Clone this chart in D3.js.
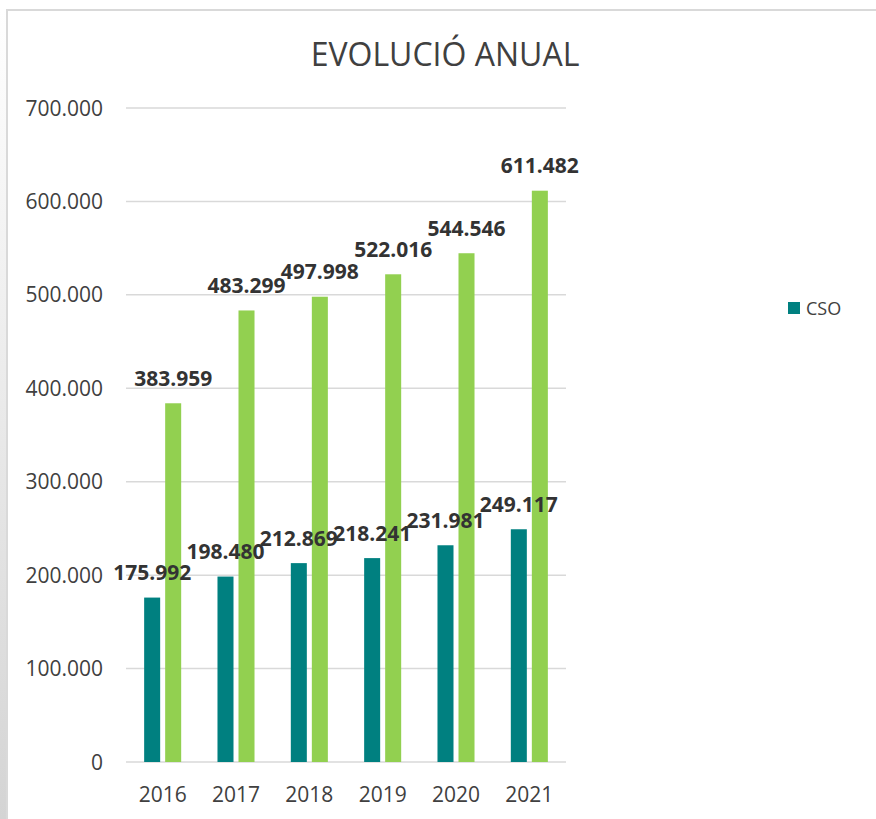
<!DOCTYPE html>
<html>
<head>
<meta charset="utf-8">
<script src="https://cdn.jsdelivr.net/npm/d3@7"></script>
<style>
	body { margin: 0; background: #fff; }
	svg { display: block; font-family: "Open Sans", sans-serif; }
</style>
</head>
<body>
<div id="chart"></div>
<script>

// chart data
var years = ["2016", "2017", "2018", "2019", "2020", "2021"];
var csoValues = [175992, 198480, 212869, 218241, 231981, 249117];
var otherValues = [383959, 483299, 497998, 522016, 544546, 611482];
var yTicks = [0, 100000, 200000, 300000, 400000, 500000, 600000, 700000];
var seriesNames = ["CSO", "Other"];
var seriesColors = ["#008080", "#92d050"];

var width = 876;
var height = 819;

var locale = d3.formatLocale({ decimal: ",", thousands: ".", grouping: [3], currency: ["", "€"] });
var fmt = locale.format(",d");

var svg = d3.select("div#chart")
	.append("svg")
	.attr("width", width)
	.attr("height", height);

// shaded left edge + frame
var grad = svg.append("defs").append("linearGradient")
	.attr("id", "edge")
	.attr("x1", 0).attr("y1", 0).attr("x2", 0).attr("y2", 1);
grad.append("stop").attr("offset", "0%").attr("stop-color", "#ffffff");
grad.append("stop").attr("offset", "100%").attr("stop-color", "#d4d4d4");

svg.append("rect")
	.attr("x", 0).attr("y", 10)
	.attr("width", 6).attr("height", height - 10)
	.attr("fill", "url(#edge)");

svg.append("path")
	.attr("d", "M7," + height + "V10H" + width)
	.attr("fill", "none")
	.attr("stroke", "#d9d9d9")
	.attr("stroke-width", 2);

// scales
var x = d3.scaleBand()
	.domain(years)
	.range([126, 566])
	.paddingInner(0.495)
	.paddingOuter(0.2475);

var x1 = d3.scaleBand()
	.domain(seriesNames)
	.range([0, x.bandwidth()])
	.paddingInner(0.238);

var y = d3.scaleLinear()
	.domain([0, 700000])
	.range([762, 108]);

// grid lines
svg.append("g")
	.selectAll("line")
	.data(yTicks)
	.enter()
	.append("line")
	.attr("x1", 126)
	.attr("x2", 566)
	.attr("y1", function(d) { return y(d); })
	.attr("y2", function(d) { return y(d); })
	.attr("stroke", "#d9d9d9")
	.attr("stroke-width", 1.5);

// y axis labels
svg.append("g")
	.selectAll("text")
	.data(yTicks)
	.enter()
	.append("text")
	.attr("x", 103)
	.attr("y", function(d) { return y(d); })
	.attr("dy", "0.36em")
	.attr("text-anchor", "end")
	.attr("fill", "#404040")
	.style("font-size", "21px")
	.text(function(d) { return fmt(d); });

// x axis labels
svg.append("g")
	.selectAll("text")
	.data(years)
	.enter()
	.append("text")
	.attr("x", function(d) { return x(d) + x.bandwidth() / 2; })
	.attr("y", 802)
	.attr("text-anchor", "middle")
	.attr("fill", "#404040")
	.style("font-size", "21px")
	.text(function(d) { return d; });

// bars
var rows = years.map(function(yr, i) {
	return { year: yr, values: [
		{ name: "CSO", value: csoValues[i] },
		{ name: "Other", value: otherValues[i] }
	] };
});

var groups = svg.append("g")
	.selectAll("g")
	.data(rows)
	.enter()
	.append("g")
	.attr("transform", function(d) { return "translate(" + x(d.year) + ",0)"; });

groups.selectAll("rect")
	.data(function(d) { return d.values; })
	.enter()
	.append("rect")
	.attr("x", function(d) { return x1(d.name); })
	.attr("y", function(d) { return y(d.value); })
	.attr("width", x1.bandwidth())
	.attr("height", function(d) { return y(0) - y(d.value); })
	.attr("fill", function(d) { return seriesColors[seriesNames.indexOf(d.name)]; });

// data labels
groups.selectAll("text")
	.data(function(d) { return d.values; })
	.enter()
	.append("text")
	.attr("x", function(d) { return x1(d.name) + x1.bandwidth() / 2; })
	.attr("y", function(d) { return y(d.value) - 17.5; })
	.attr("text-anchor", "middle")
	.attr("fill", "#333333")
	.style("font-size", "21px")
	.style("font-weight", "bold")
	.text(function(d) { return fmt(d.value); });

// title
svg.append("text")
	.attr("x", 445)
	.attr("y", 66)
	.attr("text-anchor", "middle")
	.attr("fill", "#404040")
	.style("font-size", "32px")
	.text("EVOLUCIÓ ANUAL");

// legend (only CSO shown)
svg.append("rect")
	.attr("x", 788).attr("y", 302)
	.attr("width", 12).attr("height", 12)
	.attr("fill", seriesColors[0]);

svg.append("text")
	.attr("x", 806)
	.attr("y", 315)
	.attr("fill", "#404040")
	.style("font-size", "18px")
	.text("CSO");

</script>
</body>
</html>
